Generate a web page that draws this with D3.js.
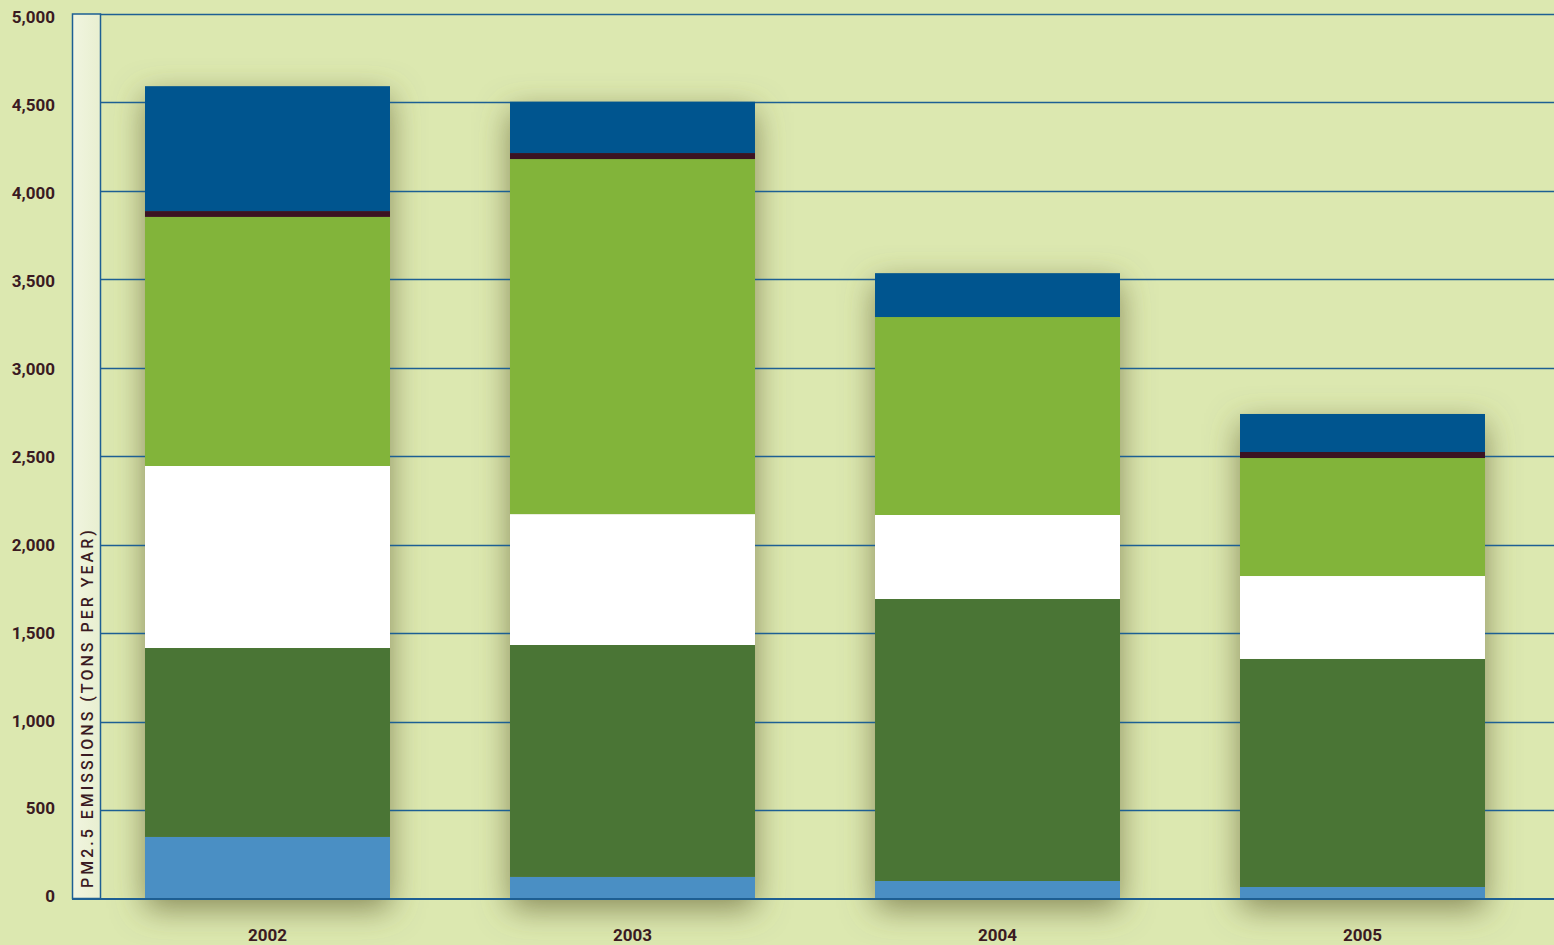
<!DOCTYPE html>
<html><head><meta charset="utf-8">
<script src="https://cdn.jsdelivr.net/npm/d3@7"></script>
<style>
html,body{margin:0;padding:0;background:#dce8b0;overflow:hidden;}
svg{display:block;}
</style></head>
<body>
<svg id="chart" width="1554" height="945"></svg>
<script>
const years = ["2002","2003","2004","2005"];
const seriesNames = ["s1","s2","s3","s4","s5","s6"];
const s1 = [348, 122, 99, 65];      // light blue (bottom)
const s2 = [1068, 1311, 1594, 1289]; // dark green
const s3 = [1029, 740, 475, 469];   // white
const s4 = [1408, 2007, 1119, 667]; // light green
const s5 = [33, 34, 0, 34];         // maroon
const s6 = [706, 290, 248, 215];    // navy (top)
const colors = ["#4a8fc4","#4a7535","#ffffff","#82b43a","#3b1322","#00558f"];
const yTicks = [0,500,1000,1500,2000,2500,3000,3500,4000,4500,5000];
const yTitle = "PM2.5 EMISSIONS (TONS PER YEAR)";

const svg = d3.select("#chart");
const W = 1554, H = 945;
const y = d3.scaleLinear().domain([0,5000]).range([898.5,14]);
const x = d3.scaleBand().domain(years).range([100,1530]).paddingInner(0.3288).paddingOuter(0.1233);

const table = years.map((yr,i)=>({year:yr, s1:s1[i], s2:s2[i], s3:s3[i], s4:s4[i], s5:s5[i], s6:s6[i]}));
const stacked = d3.stack().keys(seriesNames)(table);

const defs = svg.append("defs");
const f = defs.append("filter").attr("id","shadow").attr("x","-40%").attr("y","-40%").attr("width","180%").attr("height","180%");
f.append("feGaussianBlur").attr("in","SourceAlpha").attr("stdDeviation",16).attr("result","b");
f.append("feOffset").attr("in","b").attr("dx",0).attr("dy",10).attr("result","o");
f.append("feFlood").attr("flood-color","#6b6a3a").attr("flood-opacity",0.75);
f.append("feComposite").attr("in2","o").attr("operator","in");
const stripGrad = defs.append("linearGradient").attr("id","strip").attr("x1","0").attr("x2","1");
stripGrad.append("stop").attr("offset","0").attr("stop-color","#f1f5e0");
stripGrad.append("stop").attr("offset","1").attr("stop-color","#e8efd0");

svg.append("rect").attr("width",W).attr("height",H).attr("fill","#dce8b0");

// Shadows behind bars
svg.append("g").selectAll("rect").data(table).join("rect")
  .attr("x",d=>x(d.year)).attr("width",x.bandwidth())
  .attr("y",d=>y(d.s1+d.s2+d.s3+d.s4+d.s5+d.s6))
  .attr("height",d=>y(0)-y(d.s1+d.s2+d.s3+d.s4+d.s5+d.s6))
  .attr("fill","#000").attr("filter","url(#shadow)");

// Gridlines
const lineColor = "#1d5f93";
svg.append("g").selectAll("line").data(yTicks.filter(t=>t>0)).join("line")
  .attr("x1",100).attr("x2",W).attr("y1",d=>Math.round(y(d))+0.5).attr("y2",d=>Math.round(y(d))+0.5)
  .attr("stroke",lineColor).attr("stroke-width",1.3);

// Bars
svg.append("g").selectAll("g").data(stacked).join("g")
  .attr("fill",(d,i)=>colors[i])
  .selectAll("rect").data(d=>d.map(v=>Object.assign(v,{year:v.data.year}))).join("rect")
  .attr("x",d=>x(d.year)).attr("width",x.bandwidth())
  .attr("y",d=>y(d[1])).attr("height",d=>Math.max(0,y(d[0])-y(d[1])));

// Y axis strip
svg.append("rect").attr("x",72.5).attr("y",14).attr("width",28).attr("height",y(0)-14)
  .attr("fill","url(#strip)").attr("stroke",lineColor).attr("stroke-width",1.5);
// baseline
svg.append("line").attr("x1",72).attr("x2",W).attr("y1",899).attr("y2",899)
  .attr("stroke",lineColor).attr("stroke-width",2);

// Y tick labels via axis
const yAxis = d3.axisLeft(y).tickValues(yTicks).tickSize(0).tickPadding(0).tickFormat(d3.format(","));
const ga = svg.append("g").attr("transform","translate(55,0)").call(yAxis);
ga.select(".domain").remove();
ga.selectAll("text").attr("font-family","Roboto, 'DejaVu Sans', sans-serif")
  .attr("font-weight","700").attr("font-size",17).attr("fill","#3a1a22")
  .attr("dy",d=>(3.4 + 5*d/5000).toFixed(1));

// X labels
const xAxis = d3.axisBottom(x).tickSize(0).tickPadding(0);
const gx = svg.append("g").attr("transform","translate(0,931)").call(xAxis);
gx.select(".domain").remove();
gx.selectAll("text").attr("font-family","Roboto, 'DejaVu Sans', sans-serif")
  .attr("font-weight","700").attr("font-size",17).attr("fill","#3a1a22").attr("dy","0.6em");

// Y title
svg.append("text").attr("transform","translate(93,888) rotate(-90)")
  .attr("font-family","Roboto, 'DejaVu Sans', sans-serif").attr("font-weight","500")
  .attr("font-size",16).attr("letter-spacing","3px").attr("fill","#3a1a22")
  .text(yTitle);
</script>
</body></html>
